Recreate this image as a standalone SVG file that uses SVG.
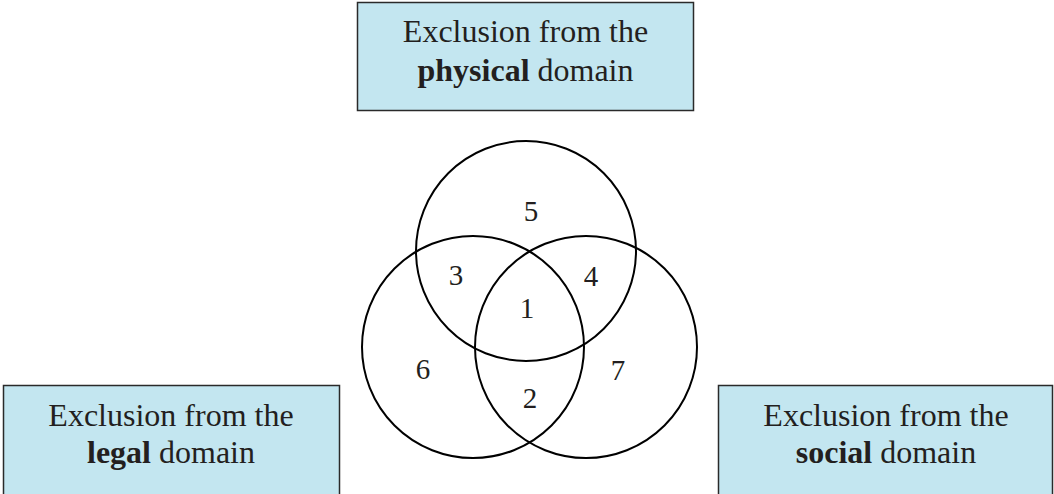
<svg xmlns="http://www.w3.org/2000/svg" width="1054" height="494" viewBox="0 0 1054 494">
<style>
.box{fill:#c3e6f0;stroke:#2a2a2a;stroke-width:1.5}
.t{font-family:"Liberation Serif","Times New Roman",serif;font-size:32px;fill:#231f20;text-anchor:middle}
.b{font-weight:bold}
.c{fill:none;stroke:#000;stroke-width:2}
.n{font-family:"Liberation Serif","Times New Roman",serif;font-size:29px;fill:#231f20;text-anchor:middle}
</style>
<rect width="1054" height="494" fill="#fff"/>
<g id="physical">
<rect class="box" x="357.5" y="2.5" width="336" height="108"/>
<text class="t" x="525.5" y="42">Exclusion from the</text>
<text class="t" x="525.5" y="81"><tspan class="b">physical</tspan> domain</text>
</g>
<g id="legal">
<rect class="box" x="3.5" y="385.5" width="336" height="120"/>
<text class="t" x="171" y="426">Exclusion from the</text>
<text class="t" x="171" y="463"><tspan class="b">legal</tspan> domain</text>
</g>
<g id="social">
<rect class="box" x="718.5" y="385.5" width="334" height="120"/>
<text class="t" x="886" y="426">Exclusion from the</text>
<text class="t" x="886" y="463"><tspan class="b">social</tspan> domain</text>
</g>
<g id="venn">
<circle class="c" cx="526" cy="251" r="110"/>
<circle class="c" cx="473" cy="347" r="111"/>
<circle class="c" cx="586" cy="347" r="111"/>
<text class="n" x="531" y="221">5</text>
<text class="n" x="456" y="285">3</text>
<text class="n" x="591" y="286">4</text>
<text class="n" x="527" y="318">1</text>
<text class="n" x="423" y="379">6</text>
<text class="n" x="618" y="380">7</text>
<text class="n" x="530" y="408">2</text>
</g>
</svg>
